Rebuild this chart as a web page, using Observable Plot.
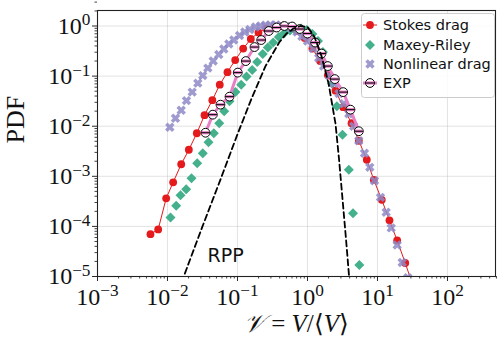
<!DOCTYPE html>
<html><head><meta charset="utf-8">
<script src="https://cdn.jsdelivr.net/npm/d3@7"></script>
<script src="https://cdn.jsdelivr.net/npm/@observablehq/plot@0.6"></script>
<style>
body{margin:0;background:#fff;}
#wrap{position:relative;width:498px;height:346px;overflow:hidden;}
#legend{position:absolute;left:361px;top:13px;}
</style></head>
<body><div id="wrap"></div>
<script>
// ---- data ----
const stokesV   = [0.00571,0.00736,0.00957,0.01205,0.0157,0.02018,0.02624,0.0338,0.0437,0.0558,0.0719,0.0927,0.1205,0.155,0.1995,0.257,0.331,0.427,0.55,0.708,0.912,1.175,1.514,1.95,2.512,3.236,4.256,5.41,7.03,8.85,11.51,14.83,19.1,24.9,32.4];
const stokesPDF = [6.98e-5,8.71e-5,3.63e-4,7.59e-4,1.74e-3,3.39e-3,7.24e-3,0.0166,0.0331,0.0676,0.120,0.209,0.355,0.550,0.741,0.891,0.977,1.0,0.933,0.794,0.575,0.355,0.1995,0.1047,0.0513,0.0240,0.01148,5.13e-3,2.14e-3,8.51e-4,3.39e-4,1.32e-4,5.25e-5,1.86e-5,6.3e-6];

const mrV   = [0.01104,0.0133,0.01535,0.01849,0.02203,0.02655,0.03192,0.03855,0.04592,0.05483,0.0646,0.0769,0.0935,0.113,0.1346,0.1622,0.191,0.2296,0.271,0.3236,0.389,0.4677,0.5623,0.676,0.813,0.977,1.175,1.413,1.66,1.95,2.239,2.63,3.162,3.89,4.467,5.495];
const mrPDF = [1.51e-4,2.57e-4,4.17e-4,5.5e-4,9.12e-4,1.82e-3,2.88e-3,4.79e-3,7.24e-3,0.01148,0.02,0.0316,0.0479,0.0676,0.0977,0.1318,0.1905,0.2754,0.3715,0.4677,0.6026,0.7244,0.8128,0.871,0.891,0.832,0.692,0.501,0.302,0.1585,0.0708,0.0251,6.76e-3,1.35e-3,1.82e-4,1.7e-5];

const nlV   = [0.01079,0.013,0.0157,0.01866,0.02254,0.0271,0.03192,0.03767,0.04498,0.05408,0.0637,0.0752,0.0885,0.1069,0.1271,0.15,0.1807,0.2133,0.2512,0.2951,0.3548,0.4169,0.5012,0.5888,0.7079,0.8318,1.0,1.202,1.445,1.698,2.042,2.399,2.818,3.311,3.89,4.571,5.408,6.516,7.762,9.057,11.04,13.3,15.7,19.1,22.54,27.1];
const nlPDF = [9.55e-3,0.01445,0.0209,0.0324,0.0479,0.0724,0.1023,0.1445,0.1995,0.2692,0.3467,0.4365,0.5248,0.6457,0.7586,0.8511,0.955,1.0,1.04,1.05,1.05,1.03,0.98,0.9,0.76,0.62,0.501,0.355,0.229,0.1585,0.1023,0.0708,0.0447,0.0282,0.01778,0.01,5.13e-3,2.88e-3,1.51e-3,8.13e-4,3.8e-4,1.91e-4,9.33e-5,4.27e-5,1.91e-5,9.5e-6];

const expV   = [0.0349,0.0444,0.0571,0.0769,0.1009,0.1315,0.175,0.2183,0.2799,0.363,0.468,0.603,0.776,1.0,1.288,1.585,1.95,2.455,3.236,4.111,5.408];
const expPDF = [7.41e-3,0.017,0.0269,0.0389,0.1175,0.1995,0.38,0.525,0.794,0.933,1.0,0.977,0.871,0.708,0.468,0.282,0.1585,0.0871,0.0479,0.0214,7.94e-3];

const rppV   = [0.01585,0.0175,0.0316,0.0562,0.1,0.1585,0.2512,0.398,0.501,0.631,0.794,1.0,1.259,1.585,1.995,2.512,2.818,3.162,3.548,3.981];
const rppPDF = [7.6e-6,1.1e-5,1e-4,8.13e-4,6.92e-3,0.0355,0.1585,0.479,0.708,0.891,1.0,0.955,0.603,0.251,0.0724,0.0112,2.24e-3,3.55e-4,5.62e-5,7.9e-6];

const rppLabel = ["RPP"];
const rppLabelV = [0.0676];
const rppLabelPDF = [2.6e-5];

const seriesNames  = ["Stokes drag","Maxey-Riley","Nonlinear drag","EXP"];
const seriesColors = ["#e41a1c","#45b08c","#8e89c7","#e67fc6"];

const xTicks = [1e-3,1e-2,1e-1,1e0,1e1,1e2];
const yTicks = [1e-5,1e-4,1e-3,1e-2,1e-1,1e0];
const xLabelParts = [["𝒱", "italic"], [" = ", "normal"], ["V", "italic"], ["/⟨", "normal"], ["V", "italic"], ["⟩", "normal"]];
const yLabel = "PDF";

// ---- helpers ----
const rows = (xs, ys) => xs.map((v, i) => ({v, p: ys[i]}));
const minor = (lo, hi) => { const out = []; for (let e = lo; e <= hi; e++) for (let m = 2; m <= 9; m++) out.push(m * 10 ** e); return out; };
const xMinor = minor(-3, 2);
const yMinor = minor(-5, 0);

const diamondSym = {draw(ctx, size){ const r = Math.sqrt(size/Math.PI); ctx.moveTo(0,-r); ctx.lineTo(r,0); ctx.lineTo(0,r); ctx.lineTo(-r,0); ctx.closePath(); }};
const xSym = {draw(ctx, size){
  const r = Math.sqrt(size/Math.PI), w = r*0.36, k = Math.SQRT1_2;
  const pts = [[w,-r],[w,-w],[r,-w],[r,w],[w,w],[w,r],[-w,r],[-w,w],[-r,w],[-r,-w],[-w,-w],[-w,-r]];
  pts.forEach(([x,y],i) => { const X=(x-y)*k, Y=(x+y)*k; i ? ctx.lineTo(X,Y) : ctx.moveTo(X,Y); });
  ctx.closePath(); }};
const bandSym = {draw(ctx, size){ const r = Math.sqrt(size/Math.PI); ctx.rect(-r, -1.6, 2*r, 3.2); }};
const hlineSym = {draw(ctx, size){ const r = Math.sqrt(size/Math.PI); ctx.moveTo(-r,0); ctx.lineTo(r,0); }};

const stokes = rows(stokesV, stokesPDF), mr = rows(mrV, mrPDF), nl = rows(nlV, nlPDF), ex = rows(expV, expPDF), rpp = rows(rppV, rppPDF);
const supFmt = d => "10^" + Math.round(Math.log10(d));
const [cS, cM, cN, cE] = seriesColors;

const chart = Plot.plot({
  width: 498, height: 346,
  marginLeft: 97, marginRight: 3, marginTop: 10, marginBottom: 70,
  x: {type: "log", domain: [1e-3, 485]},
  y: {type: "log", domain: [1e-5, 2.04]},
  style: {background: "white", fontFamily: "Liberation Serif", color: "#111"},
  marks: [
    Plot.gridX({ticks: xTicks, stroke: "#b0b0b0", strokeOpacity: 0.4, strokeWidth: 0.9}),
    Plot.gridY({ticks: yTicks, stroke: "#b0b0b0", strokeOpacity: 0.4, strokeWidth: 0.9}),
    Plot.axisX({ticks: xMinor, tickSize: 2.5, tickFormat: () => "", label: null, strokeWidth: 0.8}),
    Plot.axisY({ticks: yMinor, tickSize: 2.5, tickFormat: () => "", label: null, strokeWidth: 0.8}),
    Plot.axisX({ticks: xTicks, tickSize: 5, tickPadding: 6, fontSize: 24, tickFormat: supFmt, label: null, strokeWidth: 0.9}),
    Plot.axisY({ticks: yTicks, tickSize: 5, tickPadding: 2, fontSize: 24, tickFormat: supFmt, label: null, strokeWidth: 0.9}),
    Plot.line(stokes, {x: "v", y: "p", stroke: cS, strokeWidth: 1, clip: true}),
    Plot.dot(stokes, {x: "v", y: "p", r: 3.9, fill: cS, clip: true}),
    Plot.dot(mr, {x: "v", y: "p", symbol: diamondSym, r: 5, fill: cM, clip: true}),
    Plot.dot(nl, {x: "v", y: "p", symbol: xSym, r: 4.9, fill: cN, fillOpacity: 0.85, clip: true}),
    Plot.line(ex, {x: "v", y: "p", stroke: cE, strokeWidth: 3, clip: true}),
    Plot.dot(ex, {x: "v", y: "p", r: 4.4, fill: "white", stroke: "black", strokeWidth: 1, clip: true}),
    Plot.dot(ex, {x: "v", y: "p", symbol: bandSym, r: 3.9, fill: cE, clip: true}),
    Plot.dot(ex, {x: "v", y: "p", symbol: hlineSym, r: 4.4, fill: "none", stroke: "black", strokeWidth: 1, clip: true}),
    Plot.line(rpp, {x: "v", y: "p", stroke: "black", strokeWidth: 1.8, strokeDasharray: "6,3.5", clip: true}),
    Plot.text(rppLabel, {x: rppLabelV, y: rppLabelPDF, fontFamily: "DejaVu Sans", fontSize: 19, fill: "#111"}),
    Plot.text(["xlabel"], {frameAnchor: "bottom", dy: 55, fontSize: 25, fontFamily: "Liberation Serif", fill: "#111", text: () => xLabelParts.map(p => p[0]).join("")}),
    Plot.text([yLabel], {frameAnchor: "left", dx: -82, rotate: -90, fontSize: 26, fontFamily: "Liberation Serif", fill: "#111"}),
    Plot.frame({stroke: "#222", strokeWidth: 1.1})
  ]
});

// LaTeX-like superscripts on tick labels
d3.select(chart).selectAll('g[aria-label$="tick label"] text').each(function(){
  const t = this.textContent;
  if (!t.startsWith("10^")) return;
  const e = +t.slice(3);
  const sup = (e < 0 ? "\u2212" : "") + Math.abs(e);
  this.textContent = "10";
  d3.select(this).append("tspan").attr("dy", "-0.48em").attr("font-size", "0.72em").text(sup);
});
// mixed italic/upright x label
d3.select(chart).selectAll('g[aria-label="text"] text').each(function(){
  if (this.textContent !== xLabelParts.map(p => p[0]).join("")) return;
  this.textContent = "";
  xLabelParts.forEach(([s, st]) => d3.select(this).append("tspan").attr("font-style", st).text(s));
});

const wrap = document.getElementById("wrap");
wrap.appendChild(chart);

// legend
const L = d3.select(wrap).append("svg").attr("id", "legend").attr("width", 134).attr("height", 85)
  .style("font-family", "DejaVu Sans").style("font-size", "14.5px");
L.append("rect").attr("x", 0.5).attr("y", 0.5).attr("width", 133).attr("height", 84).attr("rx", 3)
  .attr("fill", "white").attr("fill-opacity", 0.85).attr("stroke", "#cccccc");
const rowY = [12, 32, 51, 70];
seriesNames.forEach((name, i) => {
  const g = L.append("g").attr("transform", `translate(9,${rowY[i]})`);
  const c = seriesColors[i];
  if (i === 0) { g.append("line").attr("x1", -7).attr("x2", 7).attr("stroke", c).attr("stroke-width", 1);
                 g.append("circle").attr("r", 3.9).attr("fill", c); }
  if (i === 1) g.append("path").attr("d", d3.symbol(diamondSym, Math.PI*25)()).attr("fill", c);
  if (i === 2) g.append("path").attr("d", d3.symbol(xSym, Math.PI*24)()).attr("fill", c).attr("fill-opacity", 0.85);
  if (i === 3) { g.append("line").attr("x1", -7).attr("x2", 7).attr("stroke", c).attr("stroke-width", 3);
                 g.append("circle").attr("r", 4.4).attr("fill", "white").attr("stroke", "black");
                 g.append("rect").attr("x", -3.9).attr("y", -1.6).attr("width", 7.8).attr("height", 3.2).attr("fill", c);
                 g.append("line").attr("x1", -4.4).attr("x2", 4.4).attr("stroke", "black"); }
  L.append("text").attr("x", 22).attr("y", rowY[i]).attr("dy", "0.35em").attr("fill", "#111").text(name);
});
</script>
</body></html>
